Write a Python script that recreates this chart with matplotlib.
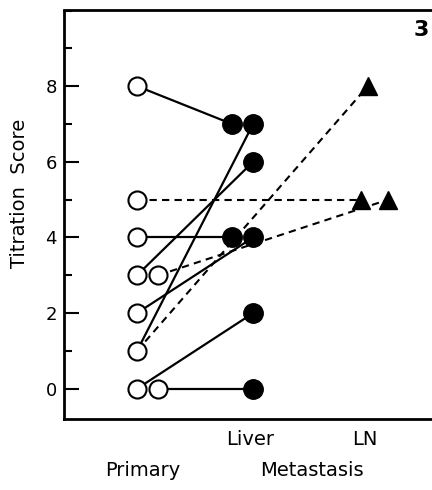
import matplotlib
matplotlib.use('Agg')
import matplotlib.pyplot as plt
import matplotlib.transforms as mtransforms
from matplotlib.ticker import MultipleLocator

# column positions on the x axis (arbitrary units)
x_pri = 1.0      # primary, first column
x_pri2 = 1.29    # primary, offset column
x_liv = 2.30     # liver, first column
x_liv2 = 2.59    # liver, offset column
x_ln_a = 4.07
x_ln_b = 4.16
x_ln_c = 4.44

# primary tumours (open circles)
pri_x = [x_pri, x_pri, x_pri, x_pri, x_pri2, x_pri, x_pri, x_pri, x_pri2]
pri_y = [8, 5, 4, 3, 3, 2, 1, 0, 0]

# liver metastases (filled circles)
liv_x = [x_liv, x_liv2, x_liv2, x_liv, x_liv2, x_liv2, x_liv2]
liv_y = [7, 7, 6, 4, 4, 2, 0]

# lymph node metastases (filled triangles)
ln_x = [x_ln_b, x_ln_a, x_ln_c]
ln_y = [8, 5, 5]

# pairs primary -> liver (solid)
liver_from_x = [x_pri, x_pri, x_pri, x_pri, x_pri, x_pri, x_pri2]
liver_from_y = [8, 4, 3, 2, 1, 0, 0]
liver_to_x = [x_liv, x_liv, x_liv2, x_liv2, x_liv2, x_liv2, x_liv2]
liver_to_y = [7, 4, 6, 4, 7, 2, 0]

# pairs primary -> lymph node (dashed)
ln_from_x = [x_pri, x_pri, x_pri2]
ln_from_y = [5, 1, 3]
ln_to_x = [x_ln_a, x_ln_b, x_ln_c]
ln_to_y = [5, 8, 5]

plt.rcParams['font.family'] = 'DejaVu Sans'

fig = plt.figure(figsize=(4.32, 4.9), dpi=100)
ax = fig.add_axes([64/432, 1 - 419/490, 1 - 64/432, (419 - 10.5)/490])

for x0, y0, x1, y1 in zip(liver_from_x, liver_from_y, liver_to_x, liver_to_y):
    ax.plot([x0, x1], [y0, y1], color='black', lw=1.6, zorder=2)
for x0, y0, x1, y1 in zip(ln_from_x, ln_from_y, ln_to_x, ln_to_y):
    ax.plot([x0, x1], [y0, y1], color='black', lw=1.5,
            linestyle=(0, (3.5, 2.5)), zorder=2)

ax.plot(pri_x, pri_y, 'o', ms=13, mfc='white', mec='black', mew=1.5,
        ls='none', zorder=3)
ax.plot(liv_x, liv_y, 'o', ms=14, mfc='black', mec='black',
        ls='none', zorder=3)
ax.plot(ln_x, ln_y, '^', ms=13, mfc='black', mec='black',
        ls='none', zorder=3)

ax.set_xlim(0, 5.04)
ax.set_ylim(-0.8, 10.0)

ax.spines['right'].set_visible(False)
for s in ['left', 'top', 'bottom']:
    ax.spines[s].set_linewidth(2)

ax.set_xticks([])
ax.yaxis.set_major_locator(MultipleLocator(2))
ax.yaxis.set_minor_locator(MultipleLocator(1))
ax.set_yticks([0, 2, 4, 6, 8])
ax.tick_params(axis='y', which='major', direction='in', length=11,
               width=1.5, pad=5, labelsize=13)
ax.tick_params(axis='y', which='minor', direction='in', length=6,
               width=1.5)

ax.set_ylabel('Titration  Score', fontsize=14)
ax.yaxis.set_label_coords(-0.095, 0.553)

trans = mtransforms.blended_transform_factory(ax.transData, ax.transAxes)
ax.text(2.55, -0.05, 'Liver', transform=trans, ha='center', va='center',
        fontsize=14)
ax.text(4.12, -0.05, 'LN', transform=trans, ha='center', va='center',
        fontsize=14)
ax.text(1.08, -0.125, 'Primary', transform=trans, ha='center', va='center',
        fontsize=14)
ax.text(3.40, -0.125, 'Metastasis', transform=trans, ha='center',
        va='center', fontsize=14)

ax.text(0.993, 0.953, '3', transform=ax.transAxes, ha='right', va='center',
        fontsize=16, fontweight='bold')

fig.savefig('out.png', dpi=100)
